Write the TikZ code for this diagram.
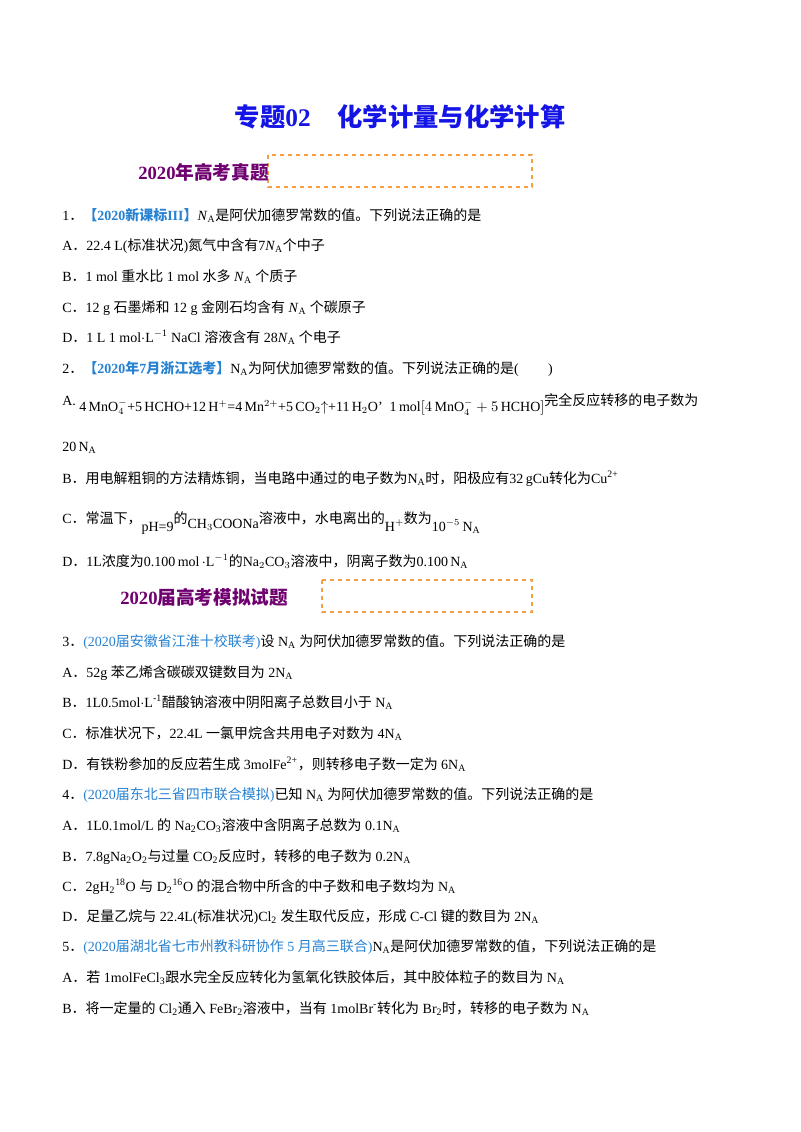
\documentclass[tikz,border=0pt]{standalone}
\usepackage{fontspec}
\setmainfont{Liberation Serif}
\newfontfamily\cjk{Noto Sans CJK SC}
\newcommand{\z}[1]{{\cjk #1}}
\newcommand{\dd}{\z{．}}
\newcommand{\NA}{N\textsubscript{A}}
\newcommand{\INA}{\textit{N}\textsubscript{A}}
\definecolor{ttl}{RGB}{20,20,230}
\definecolor{sec}{RGB}{112,0,112}
\definecolor{src}{RGB}{40,130,210}
\definecolor{org}{RGB}{245,160,70}
\begin{document}
\begin{tikzpicture}[x=0.75pt,y=-0.75pt,
  ln/.style={anchor=base west,inner sep=0pt,font=\fontsize{10.5pt}{12pt}\selectfont},
  secbox/.style={draw=org,dashed,line width=0.8pt}]
\useasboundingbox[fill=white] (0,0) rectangle (800,1132);
\node[anchor=base,inner sep=0pt,text=ttl,font=\bfseries\fontsize{19pt}{21pt}\selectfont] (title) at (400,126) {\z{专题}02\hspace{20pt}\z{化学计量与化学计算}};
\draw[secbox] (268,155) rectangle (532,187);
\node[ln,text=sec,font=\bfseries\fontsize{14pt}{16pt}\selectfont] (s1) at (138,179) {2020\z{\bfseries 年高考真题}};
\node[ln] (q1) at (62,220) {1\dd\textcolor{src}{\bfseries\z{【}2020\z{新课标}III\z{】}}\INA\z{是阿伏加德罗常数的值。下列说法正确的是}};
\node[ln] (q1a) at (62,250) {A\dd 22.4 L(\z{标准状况})\z{氮气中含有}7\INA\z{个中子}};
\node[ln] (q1b) at (62,281) {B\dd 1 mol \z{重水比} 1 mol \z{水多} \INA\ \z{个质子}};
\node[ln] (q1c) at (62,312) {C\dd 12 g \z{石墨烯和} 12 g \z{金刚石均含有} \INA\ \z{个碳原子}};
\node[ln] (q1d) at (62,342) {D\dd 1 L 1 mol$\cdot$L\textsuperscript{$-$1} NaCl \z{溶液含有} 28\INA\ \z{个电子}};
\node[ln] (q2) at (62,373) {2\dd\textcolor{src}{\bfseries\z{【}2020\z{年}7\z{月浙江选考}\z{】}}\NA\z{为阿伏加德罗常数的值。下列说法正确的是}(\hspace{22pt})};
\node[ln] (q2a) at (62,405) {A. \raisebox{-5pt}{4\,MnO$_4^-$+5\,HCHO+12\,H$^+$=4\,Mn$^{2+}$+5\,CO$_2$$\uparrow$+11\,H$_2$O'\ \ 1\,mol$\left[4\,\mathrm{MnO}_4^-+5\,\mathrm{HCHO}\right]$}\z{完全反应转移的电子数为}};
\node[ln] (q2a2) at (62,451) {20\,\NA};
\node[ln] (q2b) at (62,483) {B\dd\z{用电解粗铜的方法精炼铜，当电路中通过的电子数为}\NA\z{时，阳极应有}32\,gCu\z{转化为}Cu\textsuperscript{2+}};
\node[ln] (q2c) at (62,523) {C\dd\z{常温下，}\raisebox{-6pt}{pH=9}\z{的}\raisebox{-4pt}{CH$_3$COONa}\z{溶液中，水电离出的}\raisebox{-6pt}{H$^+$}\z{数为}\raisebox{-6pt}{10$^{-5}$\,\NA}};
\node[ln] (q2d) at (62,566) {D\dd 1L\z{浓度为}0.100\,mol\,$\cdot$L$^{-1}$\z{的}Na$_2$CO$_3$\z{溶液中，阴离子数为}0.100\,\NA};
\draw[secbox] (322,580) rectangle (532,612);
\node[ln,text=sec,font=\bfseries\fontsize{14pt}{16pt}\selectfont] (s2) at (120,604) {2020\z{\bfseries 届高考模拟试题}};
\node[ln] (q3) at (62,646) {3\dd\textcolor{src}{(2020\z{届安徽省江淮十校联考})}\z{设} \NA\ \z{为阿伏加德罗常数的值。下列说法正确的是}};
\node[ln] (q3a) at (62,677) {A\dd 52g \z{苯乙烯含碳碳双键数目为} 2\NA};
\node[ln] (q3b) at (62,707) {B\dd 1L0.5mol$\cdot$L\textsuperscript{-1}\z{醋酸钠溶液中阴阳离子总数目小于} \NA};
\node[ln] (q3c) at (62,738) {C\dd\z{标准状况下，}22.4L \z{一氯甲烷含共用电子对数为} 4\NA};
\node[ln] (q3d) at (62,769) {D\dd\z{有铁粉参加的反应若生成} 3molFe\textsuperscript{2+}\z{，则转移电子数一定为} 6\NA};
\node[ln] (q4) at (62,799) {4\dd\textcolor{src}{(2020\z{届东北三省四市联合模拟})}\z{已知} \NA\ \z{为阿伏加德罗常数的值。下列说法正确的是}};
\node[ln] (q4a) at (62,830) {A\dd 1L0.1mol/L \z{的} Na\textsubscript{2}CO\textsubscript{3}\z{溶液中含阴离子总数为} 0.1\NA};
\node[ln] (q4b) at (62,861) {B\dd 7.8gNa\textsubscript{2}O\textsubscript{2}\z{与过量} CO\textsubscript{2}\z{反应时，转移的电子数为} 0.2\NA};
\node[ln] (q4c) at (62,891) {C\dd 2gH\textsubscript{2}\textsuperscript{18}O \z{与} D\textsubscript{2}\textsuperscript{16}O \z{的混合物中所含的中子数和电子数均为} \NA};
\node[ln] (q4d) at (62,921) {D\dd\z{足量乙烷与} 22.4L(\z{标准状况})Cl\textsubscript{2} \z{发生取代反应，形成} C-Cl \z{键的数目为} 2\NA};
\node[ln] (q5) at (62,951) {5\dd\textcolor{src}{(2020\z{届湖北省七市州教科研协作} 5 \z{月高三联合})}\NA\z{是阿伏加德罗常数的值，下列说法正确的是}};
\node[ln] (q5a) at (62,982) {A\dd\z{若} 1molFeCl\textsubscript{3}\z{跟水完全反应转化为氢氧化铁胶体后，其中胶体粒子的数目为} \NA};
\node[ln] (q5b) at (62,1013) {B\dd\z{将一定量的} Cl\textsubscript{2}\z{通入} FeBr\textsubscript{2}\z{溶液中，当有} 1molBr\textsuperscript{-}\z{转化为} Br\textsubscript{2}\z{时，转移的电子数为} \NA};
\end{tikzpicture}
\end{document}
